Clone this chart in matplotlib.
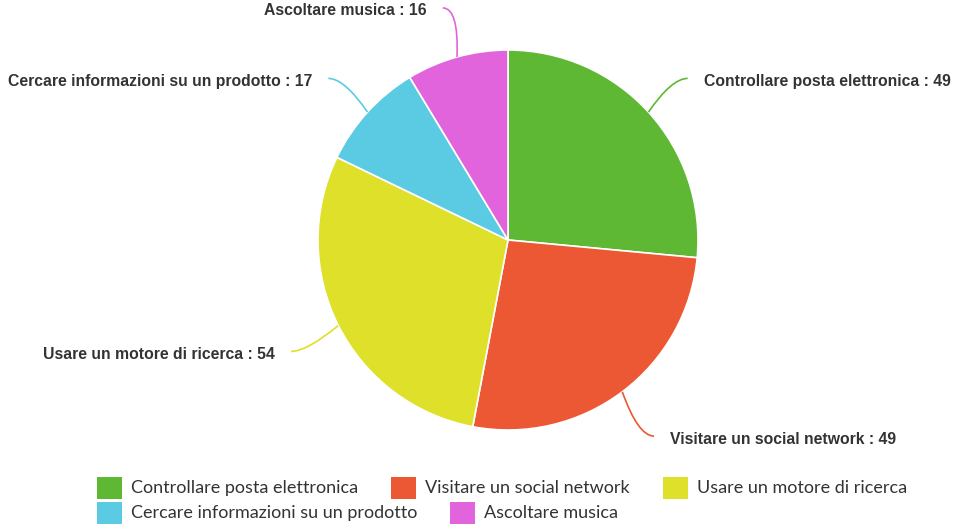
import numpy as np
import matplotlib
matplotlib.use("Agg")
import matplotlib.pyplot as plt
from matplotlib.patches import Rectangle, PathPatch
from matplotlib.path import Path

# data
categories = ["Controllare posta elettronica", "Visitare un social network",
              "Usare un motore di ricerca", "Cercare informazioni su un prodotto",
              "Ascoltare musica"]
values = [49, 49, 54, 17, 16]
colors = ["#5fb834", "#ec5734", "#dee02a", "#5bcbe3", "#e264dc"]

W, H = 960, 527
fig = plt.figure(figsize=(W / 100, H / 100), dpi=100)
ax = fig.add_axes([0, 0, 1, 1])

cx, cy, r = 508, H - 240, 190
wedges, _ = ax.pie(values, colors=colors, startangle=90, counterclock=False,
                   center=(cx, cy), radius=r,
                   wedgeprops=dict(edgecolor="white", linewidth=1.2))
ax.set_xlim(0, W)
ax.set_ylim(0, H)
ax.set_aspect("auto")
ax.axis("off")

# data labels with soft connectors
label_dist = 243
for w, name, val, col in zip(wedges, categories, values, colors):
    mid = np.deg2rad((w.theta1 + w.theta2) / 2)
    ux, uy = np.cos(mid), np.sin(mid)
    p0 = (cx + r * ux, cy + r * uy)
    p2 = (cx + label_dist * ux, cy + label_dist * uy - 2)
    d = 1 if ux >= 0 else -1
    p1 = (p2[0] - d * 16, p2[1])
    path = Path([p0, p1, p2], [Path.MOVETO, Path.CURVE3, Path.CURVE3])
    ax.add_patch(PathPatch(path, facecolor="none", edgecolor=col, lw=1.2))
    ax.text(p2[0] + d * 16, p2[1] - 3, f"{name} : {val}",
            ha="left" if d > 0 else "right", va="center",
            fontsize=11.3, fontweight="bold", family="Liberation Sans",
            color="#333333")

# legend, flow layout
fig.canvas.draw()
rend = fig.canvas.get_renderer()
box_w, box_h, pad, gap = 25, 22, 9, 33
max_row = 860
leg_texts = []
for name in categories:
    t = ax.text(0, 0, name, fontsize=13.0, family="Lato", color="#333333",
                va="center", ha="left")
    leg_texts.append((t, t.get_window_extent(rend).width))

rows, cur, cur_w = [], [], 0
for i, (t, tw) in enumerate(leg_texts):
    iw = box_w + pad + tw
    add = iw if not cur else gap + iw
    if cur and cur_w + add > max_row:
        rows.append((cur, cur_w))
        cur, cur_w = [], 0
        add = iw
    cur.append((i, t, tw))
    cur_w += add
rows.append((cur, cur_w))

left = 502 - max(rw for _, rw in rows) / 2
y = H - 488
for items, _ in rows:
    x = left
    for i, t, tw in items:
        ax.add_patch(Rectangle((x, y - box_h / 2), box_w, box_h,
                               facecolor=colors[i], edgecolor="none"))
        t.set_position((x + box_w + pad, y))
        x += box_w + pad + tw + gap
    y -= 25

fig.savefig("out.png", dpi=100)
